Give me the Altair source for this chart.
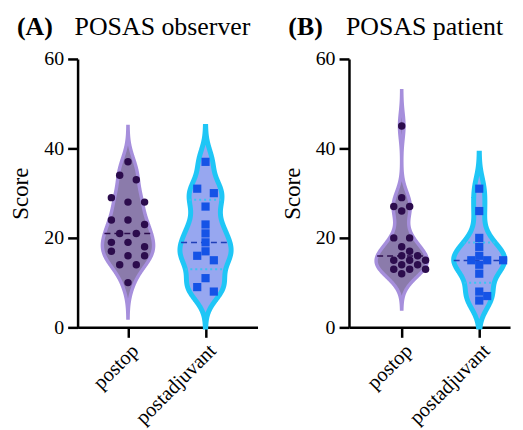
import altair as alt
import pandas as pd
import numpy as np

CATS = ["postop", "postadjuvant"]
PANEL_TAGS = ["(A)", "(B)"]
PANEL_TITLES = ["POSAS observer", "POSAS patient"]

A_POSTOP = [37, 34, 33, 29, 28, 28, 24, 24, 23, 21, 21, 19, 19, 18, 17, 16, 16, 14, 14, 10]
A_POSTADJ = [37, 31, 30, 27, 23, 21, 19, 17, 16, 15, 11, 9, 8]
B_POSTOP = [45, 29, 27, 27, 26, 20, 20, 18, 17, 16, 16, 15, 15, 15, 14, 14, 13, 13, 13, 12]
B_POSTADJ = [31, 26, 20, 18, 16, 15, 15, 15, 14, 12, 8, 7, 6]

Y_TICKS = [0, 20, 40, 60]
H = 270
YMAX = 60
YPX = H / YMAX
PXU = 78.0  # pixels per category unit on x
BW = 2.9
EXT = 8
DOT = 8.3

FONT = "Liberation Serif"
FILL = {"postop": "#8b7bab", "postadjuvant": "#97a7f0"}
STROKE = {"postop": "#a68fdc", "postadjuvant": "#1fc6f6"}
SW = {"postop": 3.5, "postadjuvant": 5}
PT = {"postop": "#2c0c4d", "postadjuvant": "#1553e6"}
SHAPE = {"postop": "circle", "postadjuvant": "square"}
SIZE = {"postop": 56, "postadjuvant": 68}
MED = {"postop": "#2c0c4d", "postadjuvant": "#1f3fb8"}


def swarm(vals, row_h, step):
    """Row-based dot-plot layout: returns (value, x offset in px) pairs."""
    sv = sorted(vals)
    rows = []
    for v in sv:
        if rows and v - rows[-1][0] < row_h:
            rows[-1].append(v)
        else:
            rows.append([v])
    placed = []
    out = []
    for r in rows:
        r = sorted(r, reverse=True)
        n = len(r)
        base = [(i - (n - 1) / 2) * step for i in range(n)]
        ok = None
        for k in range(0, 20):
            shifts = [0] if k == 0 else [k * step / 2, -k * step / 2]
            for sh in shifts:
                cand = [(b + sh, v * YPX) for b, v in zip(base, r)]
                if all((cx - px) ** 2 + (cy - py) ** 2 >= DOT ** 2
                       for cx, cy in cand for px, py in placed):
                    ok = cand
                    break
            if ok:
                break
        placed += ok
        out += [(v, c[0]) for v, c in zip(r, ok)]
    return out


def make_panel(tag, title, v1, v2, width, dom, row_h, step):
    rows = []
    for idx, (cat, vals) in enumerate(zip(CATS, [v1, v2]), start=1):
        q1, med, q3 = np.percentile(vals, [25, 50, 75], method="weibull")
        for v, o in swarm(vals, row_h, step):
            rows.append(dict(group=cat, idx=idx, value=v, xo=idx + o / PXU,
                             med=float(med), q1=float(q1), q3=float(q3)))
    df = pd.DataFrame(rows)

    xscale = alt.Scale(domain=dom, nice=False, zero=False)
    yscale = alt.Scale(domain=[0, YMAX], nice=False)
    common = dict(grid=False, domainColor="black", domainWidth=2.5, tickColor="black",
                  tickWidth=2.5, tickSize=10, labelFont=FONT, labelColor="black",
                  titleFont=FONT, titleColor="black", titleFontWeight="normal")
    yaxis = alt.Axis(title="Score", values=Y_TICKS, labelFontSize=20, labelPadding=4,
                     titleFontSize=23, titlePadding=11, **common)
    xaxis = alt.Axis(title=None, values=[1, 2],
                     labelExpr=f"datum.value == 1 ? '{CATS[0]}' : '{CATS[1]}'",
                     labelAngle=-45, labelFontSize=20.5, labelPadding=3, **common)

    def X(f):
        return alt.X(f, scale=xscale, axis=xaxis)

    def Y(f):
        return alt.Y(f, scale=yscale, axis=yaxis)

    layers = []
    for cat in CATS:
        base = alt.Chart(df).transform_filter(alt.datum.group == cat)
        dens = (base
                .transform_joinaggregate(lo="min(value)", hi="max(value)")
                .transform_density("value", groupby=["idx", "lo", "hi", "med", "q1", "q3"],
                                   extent=[-10, 62], steps=721, bandwidth=BW,
                                   as_=["v", "dens"])
                .transform_joinaggregate(maxd="max(dens)")
                .transform_calculate(hw="datum.dens / datum.maxd * 0.33")
                .transform_calculate(xl="datum.idx - datum.hw", xr="datum.idx + datum.hw"))
        area = (dens
                .transform_filter(f"datum.v >= 0 && datum.v >= datum.lo - {EXT} && datum.v <= datum.hi + {EXT}")
                .mark_area(orient="horizontal", fill=FILL[cat], stroke=STROKE[cat],
                           strokeWidth=SW[cat], fillOpacity=1, interpolate="monotone")
                .encode(y=Y("v:Q"), x=X("xl:Q"), x2="xr:Q"))
        layers.append(area)
        if cat == "postadjuvant":
            quart = (dens
                     .transform_fold(["q1", "q3"], as_=["stat", "sv"])
                     .transform_filter("abs(datum.v - datum.sv) <= 0.05")
                     .mark_rule(color="#3cc3f2", strokeWidth=2, strokeDash=[2, 3])
                     .encode(y=Y("v:Q"), x=X("xl:Q"), x2="xr:Q"))
            layers.append(quart)
        med = (dens
               .transform_filter("abs(datum.v - datum.med) <= 0.05")
               .mark_rule(color=MED[cat], strokeWidth=1.5, strokeDash=[6, 4])
               .encode(y=Y("v:Q"), x=X("xl:Q"), x2="xr:Q"))
        layers.append(med)
    for cat in CATS:
        pts = (alt.Chart(df).transform_filter(alt.datum.group == cat)
               .mark_point(shape=SHAPE[cat], filled=True, size=SIZE[cat], color=PT[cat], opacity=1)
               .encode(x=X("xo:Q"), y=Y("value:Q")))
        layers.append(pts)

    t1 = (alt.Chart(pd.DataFrame({"t": [tag]}))
          .mark_text(align="left", baseline="alphabetic", font=FONT, fontSize=26,
                     fontWeight="bold", color="black")
          .encode(text="t:N", x=alt.value(-61), y=alt.value(-24)))
    t2 = (alt.Chart(pd.DataFrame({"t": [title]}))
          .mark_text(align="left", baseline="alphabetic", font=FONT, fontSize=26,
                     color="black")
          .encode(text="t:N", x=alt.value(-3), y=alt.value(-24)))
    layers += [t1, t2]
    return alt.layer(*layers).properties(width=width, height=H)


pA = make_panel(PANEL_TAGS[0], PANEL_TITLES[0], A_POSTOP, A_POSTADJ, 181,
                [0.35, 0.35 + 181 / PXU], 2, 16.7)
pB = make_panel(PANEL_TAGS[1], PANEL_TITLES[1], B_POSTOP, B_POSTADJ, 162,
                [0.32, 0.32 + 162 / PXU], 1, 16)

chart = (alt.hconcat(pA, pB, spacing=24)
         .properties(padding={"left": 2, "top": 5, "right": 0, "bottom": 0})
         .configure_view(stroke=None))

chart.save("out.html", embed_options={"renderer": "svg", "actions": False})
